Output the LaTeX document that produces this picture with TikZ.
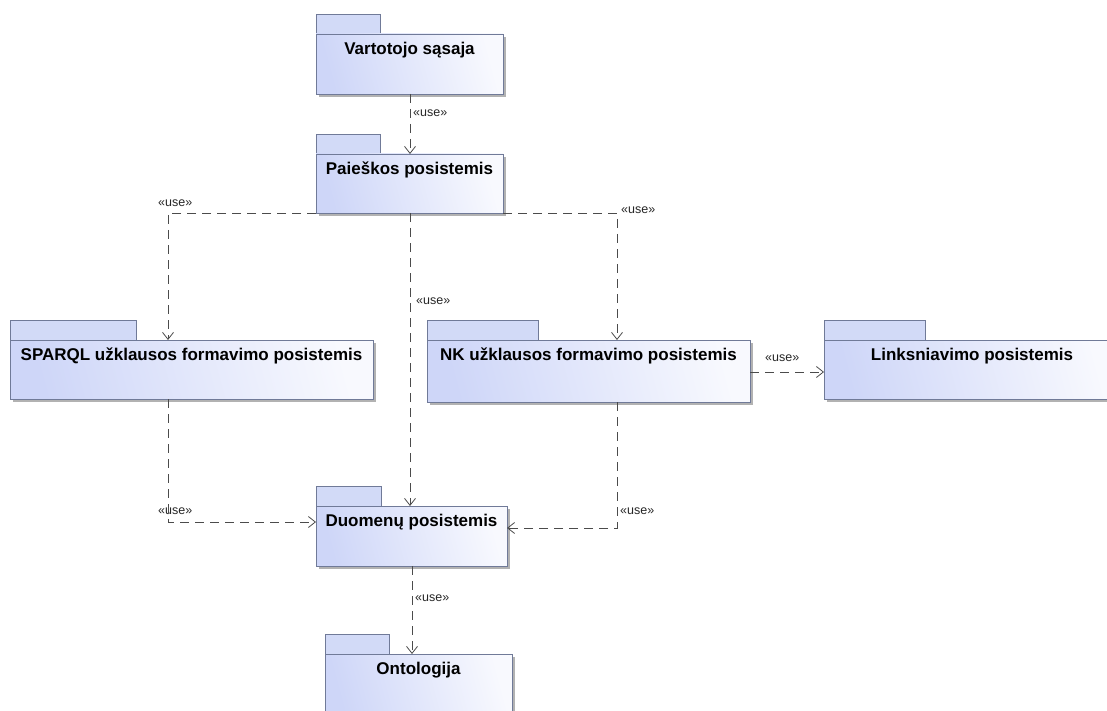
\documentclass[tikz,border=0pt]{standalone}
\usepackage{fontspec}
\setmainfont{Liberation Sans}
\usetikzlibrary{arrows.meta,calc}

\definecolor{pkgline}{RGB}{112,122,152}
\definecolor{pkgleft}{RGB}{206,214,248}
\definecolor{pkgright}{RGB}{248,249,254}
\definecolor{pkgtabfill}{RGB}{210,218,247}
\definecolor{depcol}{RGB}{75,75,75}

\tikzset{
  pkgshadow/.style={fill=black!30},
  pkgtab/.style={draw=pkgline, line width=0.9pt, fill=pkgtabfill, inner sep=0pt, outer sep=0pt},
  pkgbody/.style={draw=pkgline, line width=0.9pt, left color=pkgleft, right color=pkgright,
    shading angle=105, inner sep=0pt, outer sep=0pt},
  pkgtitle/.style={font=\fontsize{17}{20}\selectfont\bfseries, inner sep=0pt, text height=13pt, text depth=4pt},
  uselabel/.style={font=\fontsize{12.5}{14}\selectfont, inner sep=0pt, anchor=west, text=black!85},
  dep/.style={draw=depcol, line width=0.9pt, dash pattern=on 9pt off 6pt,
    -{Straight Barb[length=7pt,width=11pt,line width=0.8pt]}}
}

% package symbol: name, x1, y1 (body top), x2, y2 (body bottom), tab right edge, title
\newcommand{\pkgbox}[7]{%
  \fill[pkgshadow] ({#2+3},{#3+3}) rectangle ({#4+3},{#5+3});
  \node[pkgtab, minimum width={(#6-#2)*1pt}, minimum height=20pt, anchor=south west] (#1-tab) at (#2,#3) {};
  \node[pkgbody, minimum width={(#4-#2)*1pt}, minimum height={(#5-#3)*1pt}, anchor=north west] (#1) at (#2,#3) {};
  \node[pkgtitle, anchor=north] (#1-title) at ($(#1.north)+(0,7)$) {#7};
}

\begin{document}
\begin{tikzpicture}[x=1pt,y=-1pt]
\useasboundingbox (0,0) rectangle (1107,711);
\clip (0,0) rectangle (1107,711);
\fill[white] (0,0) rectangle (1107,711);

\pkgbox{vart}{316}{34}{503}{94}{380}{Vartotojo sąsaja}
\pkgbox{paies}{316}{154}{503}{213}{380}{Paieškos posistemis}
\pkgbox{sparql}{10}{340}{373}{399}{136}{SPARQL užklausos formavimo posistemis}
\pkgbox{nk}{427}{340}{750}{402}{538}{NK užklausos formavimo posistemis}
\pkgbox{link}{824}{340}{1120}{399}{925}{Linksniavimo posistemis}
\pkgbox{duom}{316}{506}{507}{566}{381}{Duomenų posistemis}
\pkgbox{onto}{325}{654}{512}{714}{389}{Ontologija}

% dependencies
\draw[dep] ($(vart.south west)+(94,0)$) -- ($(paies.north west)+(94,0)$);
\draw[dep] (paies.south west) -| ($(sparql.north west)+(158,0)$);
\draw[dep] (paies.south east) -| ($(nk.north west)+(190,0)$);
\draw[dep] ($(paies.south west)+(94,0)$) -- ($(duom.north west)+(94,0)$);
\draw[dep] ($(sparql.south west)+(158,0)$) |- ($(duom.north west)+(0,16)$);
\draw[dep] ($(nk.south west)+(190,0)$) |- ($(duom.north east)+(0,22)$);
\draw[dep] ($(nk.north east)+(0,32)$) -- ($(link.north west)+(0,32)$);
\draw[dep] ($(duom.south west)+(96,0)$) -- ($(onto.north west)+(87,0)$);

% stereotype labels
\node[uselabel] (u1) at (413,113) {«use»};
\node[uselabel] (u2) at (158,203) {«use»};
\node[uselabel] (u3) at (621,210) {«use»};
\node[uselabel] (u4) at (416,301) {«use»};
\node[uselabel] (u5) at (765,358) {«use»};
\node[uselabel] (u6) at (158,511) {«use»};
\node[uselabel] (u7) at (620,511) {«use»};
\node[uselabel] (u8) at (415,598) {«use»};
\end{tikzpicture}
\end{document}
